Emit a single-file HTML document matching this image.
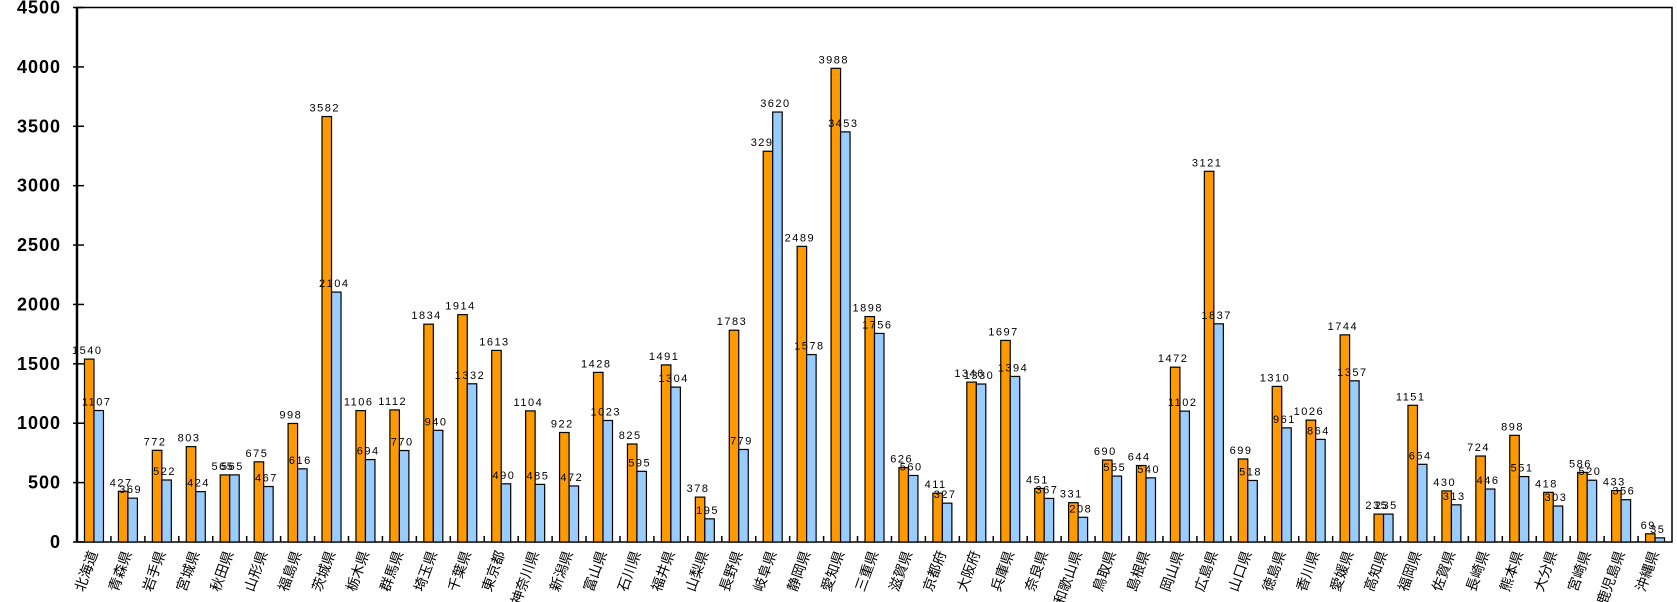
<!DOCTYPE html>
<html><head><meta charset="utf-8"><style>
html,body{margin:0;padding:0;background:#fff;}
svg{display:block;font-family:"Liberation Sans","Noto Sans CJK JP",sans-serif;}
</style></head><body>
<svg id="chart" width="1677" height="602" viewBox="0 0 1677 602" xmlns="http://www.w3.org/2000/svg"></svg>
<script>
const categories=["北海道","青森県","岩手県","宮城県","秋田県","山形県","福島県","茨城県","栃木県","群馬県","埼玉県","千葉県","東京都","神奈川県","新潟県","富山県","石川県","福井県","山梨県","長野県","岐阜県","静岡県","愛知県","三重県","滋賀県","京都府","大阪府","兵庫県","奈良県","和歌山県","鳥取県","島根県","岡山県","広島県","山口県","徳島県","香川県","愛媛県","高知県","福岡県","佐賀県","長崎県","熊本県","大分県","宮崎県","鹿児島県","沖縄県"];
const seriesA=[1540,427,772,803,565,675,998,3582,1106,1112,1834,1914,1613,1104,922,1428,825,1491,378,1783,3290,2489,3988,1898,626,411,1346,1697,451,331,690,644,1472,3121,699,1310,1026,1744,235,1151,430,724,898,418,586,433,69];
const seriesB=[1107,369,522,424,565,467,616,2104,694,770,940,1332,490,485,472,1023,595,1304,195,779,3620,1578,3453,1756,560,327,1330,1394,367,208,555,540,1102,1837,518,961,864,1357,235,654,313,446,551,303,520,356,35];
const yTicks=[0,500,1000,1500,2000,2500,3000,3500,4000,4500];
const NS="http://www.w3.org/2000/svg";
const svg=document.getElementById('chart');
const L=77,R=1672,T=7.5,B=542,YMAX=4500;
const cw=(R-L)/categories.length, bw=9.5;
function y(v){return B-(v/YMAX)*(B-T);}
function x(i){return L+i*cw;}
function mk(tag,attrs,parent){const e=document.createElementNS(NS,tag);for(const k in attrs)e.setAttribute(k,attrs[k]);(parent||svg).appendChild(e);return e;}
const frame=mk('rect',{x:L,y:T,width:R-L,height:B-T,fill:'none',stroke:'#000','stroke-width':1.5});


const ax=mk('line',{x1:L,y1:T,x2:L,y2:B,stroke:'#000','stroke-width':2.5});


yTicks.forEach(t=>{
  const tk=mk('line',{x1:L-4,x2:L+7,y1:y(t),y2:y(t),stroke:'#000','stroke-width':1.5});
  
  
  const tx=mk('text',{x:61,y:y(t)+6,'text-anchor':'end','font-size':18,'font-weight':'bold','letter-spacing':'1'});
  tx.textContent=t;
  
  
});
categories.forEach((c,i)=>{
  if(i>0){const tk=mk('line',{x1:x(i),x2:x(i),y1:B,y2:B-6,stroke:'#000','stroke-width':1.5});
  
  }
  const x0=x(i)+(cw-2*bw)/2;
  [[seriesA[i],'#ff9900',x0,'bar-series-a'],[seriesB[i],'#99ccff',x0+bw,'bar-series-b']].forEach(([v,col,bx,nm])=>{
    const r=mk('rect',{x:bx,y:y(v),width:bw,height:B-y(v),fill:col,stroke:'#000','stroke-width':1.2});
    
    
    const t=mk('text',{x:bx+bw/2-2,y:y(v)-5,'text-anchor':'middle','font-size':11,'letter-spacing':'1.5'});
    t.textContent=v;
    
    
  });
  const cx=x(i)+cw/2;
  const lt=mk('text',{x:0,y:0,'text-anchor':'end','font-size':14,transform:`translate(${cx+4},${B+11}) rotate(-70)`});
  lt.textContent=c;
  
  
});
</script>
</body></html>
